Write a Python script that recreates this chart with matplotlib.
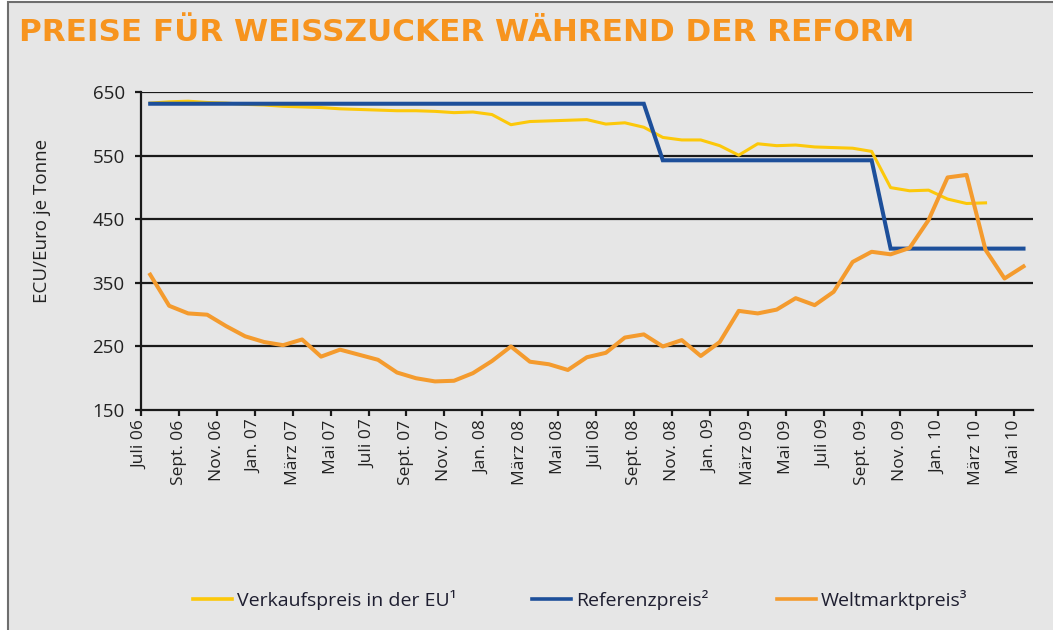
import matplotlib
matplotlib.use("Agg")
import matplotlib.pyplot as plt
from matplotlib.patches import Rectangle
from matplotlib.lines import Line2D
from matplotlib import font_manager as fm

# ---------------- data ----------------
months = ["Juli 06", "Aug. 06", "Sept. 06", "Okt. 06", "Nov. 06", "Dez. 06",
          "Jan. 07", "Feb. 07", "März 07", "Apr. 07", "Mai 07", "Juni 07",
          "Juli 07", "Aug. 07", "Sept. 07", "Okt. 07", "Nov. 07", "Dez. 07",
          "Jan. 08", "Feb. 08", "März 08", "Apr. 08", "Mai 08", "Juni 08",
          "Juli 08", "Aug. 08", "Sept. 08", "Okt. 08", "Nov. 08", "Dez. 08",
          "Jan. 09", "Feb. 09", "März 09", "Apr. 09", "Mai 09", "Juni 09",
          "Juli 09", "Aug. 09", "Sept. 09", "Okt. 09", "Nov. 09", "Dez. 09",
          "Jan. 10", "Feb. 10", "März 10", "Apr. 10", "Mai 10"]

verkaufspreis = [633, 635, 636, 634, 633, 631, 630, 628, 627, 626, 624, 623,
                 622, 621, 621, 620, 618, 619, 615, 599, 604, 605, 606, 607,
                 600, 602, 595, 579, 575, 575, 566, 551, 569, 566, 567, 564,
                 563, 562, 557, 500, 495, 496, 482, 475, 476]

referenzpreis = [632] * 27 + [543] * 12 + [404] * 8

weltmarktpreis = [363, 314, 302, 300, 282, 266, 257, 252, 261, 234, 245, 237,
                  229, 209, 200, 195, 196, 208, 227, 250, 226, 222, 213, 233,
                  240, 264, 269, 250, 260, 235, 257, 306, 302, 308, 326, 315,
                  336, 383, 399, 395, 405, 449, 516, 520, 402, 357, 376]

tick_labels = months[::2]
y_ticks = [150, 250, 350, 450, 550, 650]

title = "PREISE FÜR WEISSZUCKER WÄHREND DER REFORM"
y_label = "ECU/Euro je Tonne"
series_names = ["Verkaufspreis in der EU\u00b9", "Referenzpreis\u00b2", "Weltmarktpreis\u00b3"]

# ---------------- style ----------------
BG = "#E6E6E6"
C_YELLOW = "#FCC80A"
C_BLUE = "#1D4F9A"
C_ORANGE = "#F49B2E"
C_TITLE = "#F7941E"


def has_font(name):
    try:
        fm.findfont(fm.FontProperties(family=name), fallback_to_default=False)
        return True
    except Exception:
        return False

TICK_FONT = "Open Sans" if has_font("Open Sans") else "DejaVu Sans"
LEG_FONT, LEG_SIZE = TICK_FONT, 14

W, H = 1053, 630
fig = plt.figure(figsize=(W / 100, H / 100), dpi=100, facecolor="white")

# background frame
fig.patches.append(Rectangle((8 / W, -0.05), 1.2, 1.05 - 2 / H, transform=fig.transFigure,
                             facecolor=BG, edgecolor="#6E6E6E", linewidth=1.5, zorder=-10))

ax = fig.add_axes([140.7 / W, 1 - 410 / H, (1033 - 140.7) / W, (410 - 92.3) / H])
ax.set_facecolor("none")

x = [i + 0.5 for i in range(len(months))]
ax.plot(x[:len(verkaufspreis)], verkaufspreis, color=C_YELLOW, lw=2.2, zorder=3,
        solid_joinstyle="round", label=series_names[0])
ax.plot(x[:len(referenzpreis)], referenzpreis, color=C_BLUE, lw=2.9, zorder=4,
        solid_joinstyle="miter", label=series_names[1])
ax.plot(x[:len(weltmarktpreis)], weltmarktpreis, color=C_ORANGE, lw=2.9, zorder=5,
        solid_joinstyle="round", label=series_names[2])

ax.set_xlim(0, len(months))
ax.set_ylim(150, 650)
ax.set_yticks(y_ticks)
ax.set_xticks(range(0, len(months), 2))
ax.set_xticklabels(tick_labels, rotation=90, fontsize=12.5, family=TICK_FONT, color="#222222")
ax.set_yticklabels([str(v) for v in y_ticks], fontsize=13.5, family=TICK_FONT, color="#222222")

for v in y_ticks[1:]:
    ax.axhline(v, color="#1A1A1A", lw=1.6, zorder=1)

for s in ["top", "right"]:
    ax.spines[s].set_visible(False)
for s in ["left", "bottom"]:
    ax.spines[s].set_color("#1A1A1A")
    ax.spines[s].set_linewidth(1.6)

ax.tick_params(axis="y", direction="out", length=4.5, width=1.6, color="#1A1A1A", pad=7)
ax.tick_params(axis="x", direction="out", length=4, width=1.6, color="#1A1A1A", pad=3)

fig.text(42 / W, 1 - 221 / H, y_label, rotation=90, ha="center", va="center",
         fontsize=13.5, family=TICK_FONT, color="#222222")

fig.text(19 / W, 1 - 41 / H, title, ha="left", va="baseline", fontsize=22.3,
         fontweight="bold", family="DejaVu Sans", color=C_TITLE)

# legend: three entries placed at their own positions
colors = [C_YELLOW, C_BLUE, C_ORANGE]
leg_x = [193, 532, 777]
for name, col, lx in zip(series_names, colors, leg_x):
    leg = fig.legend([Line2D([0], [0], color=col, lw=2.6)], [name], loc="center left",
                     bbox_to_anchor=(lx / W, 1 - 600 / H), frameon=False,
                     handlelength=2.0, handletextpad=0.25, borderpad=0, borderaxespad=0,
                     prop=fm.FontProperties(family=LEG_FONT, size=LEG_SIZE))
    for t in leg.get_texts():
        t.set_color("#1E1E30")

fig.savefig("out.png", dpi=100, facecolor=fig.get_facecolor())
